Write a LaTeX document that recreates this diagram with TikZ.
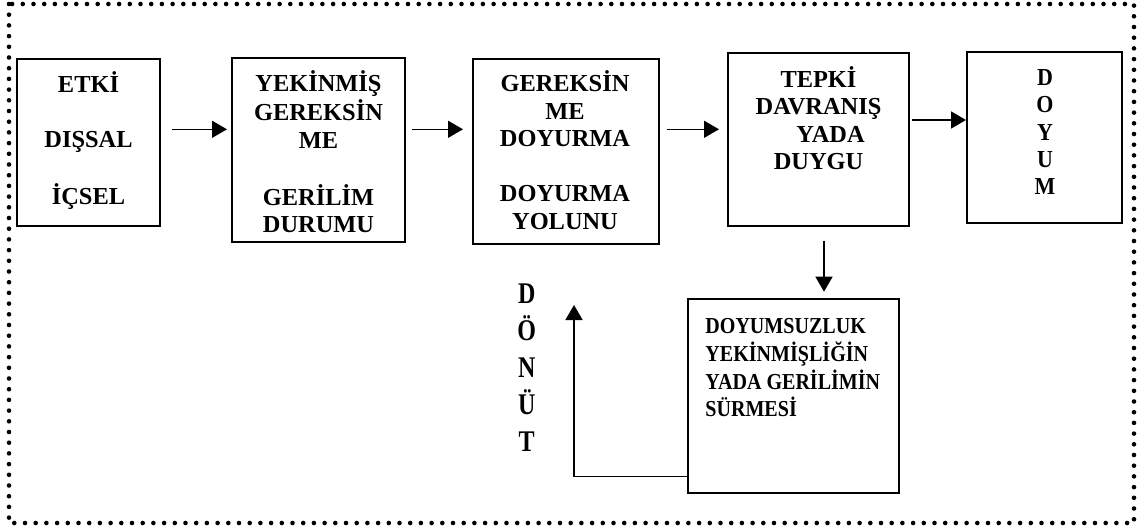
\documentclass[tikz,border=0pt]{standalone}
\usepackage{fontspec}
\setmainfont{Liberation Serif}
\newfontfamily\condA{Liberation Serif}[FakeStretch=0.9]
\newfontfamily\condB{Liberation Serif}[FakeStretch=0.88]
\newfontfamily\condC{Liberation Serif}[FakeStretch=0.8]
\usetikzlibrary{arrows.meta,fit}
\begin{document}
\begin{tikzpicture}[x=0.5pt,y=-0.5pt,
  box/.style={draw, line width=0.75pt, inner sep=0pt, outer sep=0pt},
  lbl/.style={anchor=base, inner sep=0pt, font=\bfseries\fontsize{12.2}{13.75}\selectfont},
  arr/.style={line width=0.75pt, -{Triangle[length=7.5pt,width=8.5pt]}},
  border/.style={line width=2.3pt, line cap=round, dash pattern=on 0pt off 5.35pt}]
\useasboundingbox (0,0) rectangle (1137,530);
\renewcommand\arraystretch{1}
\draw[border] (9,4) rectangle (1134,523);
% boxes
\node[box, fit={(17,59) (160,226)}] (b1) {};
\node[box, fit={(232,58) (405,242)}] (b2) {};
\node[box, fit={(473,59) (659,244)}] (b3) {};
\node[box, fit={(728,53) (909,226)}] (b4) {};
\node[box, fit={(967,52) (1122,223)}] (b5) {};
\node[box, fit={(688,299) (899,493)}] (b6) {};
% texts
\node[lbl] (t1) at (88.5,92.7) {\begin{tabular}[t]{@{}c@{}}ETKİ\\ \\ DIŞSAL\\ \\ İÇSEL\end{tabular}};
\node[lbl] (t2) at (318.5,91.7) {\begin{tabular}[t]{@{}c@{}}YEKİNMİŞ\\ GEREKSİN\\ ME\\ \\ GERİLİM\\ DURUMU\end{tabular}};
\node[lbl] (t3) at (565,91.7) {\begin{tabular}[t]{@{}c@{}}GEREKSİN\\ ME\\ DOYURMA\\ \\ DOYURMA\\ YOLUNU\end{tabular}};
\node[lbl] (t4) at (818.5,87.3) {\begin{tabular}[t]{@{}c@{}}TEPKİ\\ DAVRANIŞ\\ \hspace*{12pt}YADA\\ DUYGU\end{tabular}};
\node[lbl, font=\condA\bfseries\fontsize{12.2}{13.75}\selectfont] (t5) at (1045,85) {\begin{tabular}[t]{@{}c@{}}D\\ O\\ Y\\ U\\ M\end{tabular}};
\node[lbl, anchor=base west, font=\condB\bfseries\fontsize{11.4}{13.65}\selectfont] (t6) at (705,333.3) {\begin{tabular}[t]{@{}l@{}}DOYUMSUZLUK\\ YEKİNMİŞLİĞİN\\ YADA GERİLİMİN\\ SÜRMESİ\end{tabular}};
\node[lbl, font=\condC\bfseries\fontsize{15}{18.55}\selectfont] (t7) at (526.7,303.3) {\begin{tabular}[t]{@{}c@{}}D\\ Ö\\ N\\ Ü\\ T\end{tabular}};
% connectors
\coordinate (r1) at (0,129.3);
\coordinate (r2) at (0,120);
\coordinate (dx) at (824,0);
\coordinate (fy) at (0,476.7);
\coordinate (fb) at (574,305);
\draw[arr, shorten <=6pt, shorten >=2.5pt] (b1.east |- r1) -- (b2.west |- r1);
\draw[arr, shorten <=3.5pt, shorten >=5pt] (b2.east |- r1) -- (b3.west |- r1);
\draw[arr, shorten <=4pt, shorten >=4.5pt] (b3.east |- r1) -- (b4.west |- r1);
\draw[arr, shorten <=1.5pt, shorten >=0.5pt] (b4.east |- r2) -- (b5.west |- r2);
\draw[arr, shorten <=7.35pt, shorten >=3.65pt] (b4.south -| dx) -- (b6.north -| dx);
\draw[arr] (b6.west |- fy) -| (fb);
\end{tikzpicture}
\end{document}
